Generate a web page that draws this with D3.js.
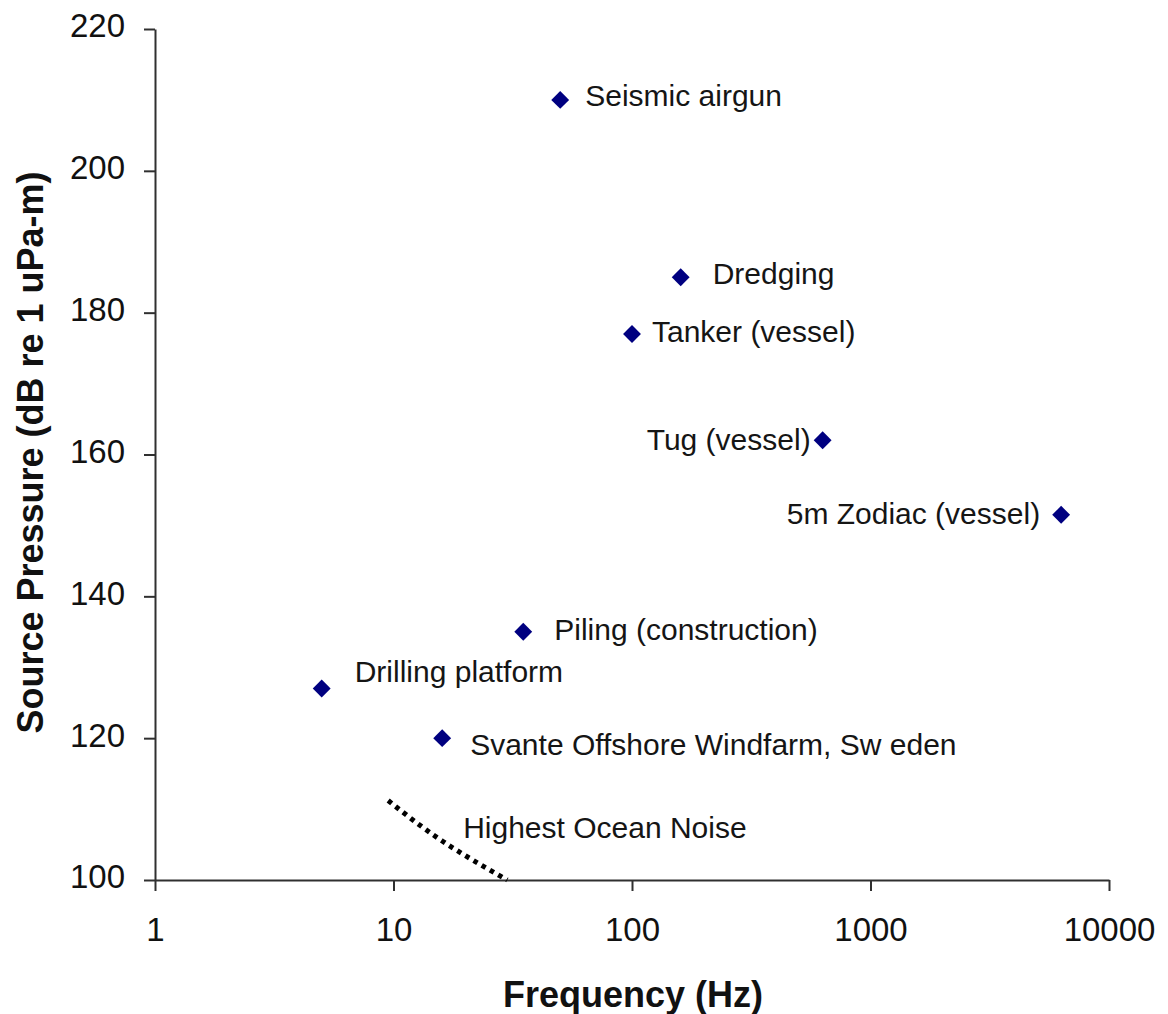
<!DOCTYPE html>
<html>
<head>
<meta charset="utf-8">
<script src="https://cdn.jsdelivr.net/npm/d3@7"></script>
<style>
  body { margin: 0; background: #fff; }
  svg { display: block; font-family: "Liberation Sans", Arial, sans-serif; }
  .axis path, .axis line { stroke: #303030; stroke-width: 2; }
  .axis text { font-size: 33px; fill: #111; }
  .axisTitle { font-size: 36px; font-weight: bold; fill: #111; }
  .ptLabel { font-size: 30px; fill: #151515; }
</style>
</head>
<body>
<div id="chart"></div>
<script>
// noise sources
var sources = ["Seismic airgun", "Dredging", "Tanker (vessel)", "Tug (vessel)",
  "5m Zodiac (vessel)", "Piling (construction)", "Drilling platform",
  "Svante Offshore Windfarm, Sw eden"];
var frequency = [50, 160, 100, 630, 6300, 35, 5, 16];
var pressure = [210, 185, 177, 162, 151.5, 135, 127, 120];

// highest ocean noise curve
var noiseFreq = [9.5, 16, 30];
var noiseDb = [111.2, 105.5, 100];
var noiseLabel = "Highest Ocean Noise";

var xTicks = [1, 10, 100, 1000, 10000];
var yTicks = [100, 120, 140, 160, 180, 200, 220];

var svgWidth = 1168;
var svgHeight = 1014;
var margin = { top: 29, right: 59, bottom: 134, left: 155 };
var width = svgWidth - margin.left - margin.right;
var height = svgHeight - margin.top - margin.bottom;

var svg = d3.select("#chart")
  .append("svg")
  .attr("width", svgWidth)
  .attr("height", svgHeight);

var chartGroup = svg.append("g")
  .attr("transform", `translate(${margin.left}, ${margin.top})`);

var xScale = d3.scaleLog()
  .domain([1, 10000])
  .range([0, width]);

var yScale = d3.scaleLinear()
  .domain([100, 220])
  .range([height, 0]);

chartGroup.append("g")
  .attr("class", "axis")
  .attr("transform", `translate(0, ${height})`)
  .call(d3.axisBottom(xScale)
    .tickValues(xTicks)
    .tickFormat(d3.format("d"))
    .tickSize(11)
    .tickSizeOuter(0)
    .tickPadding(27));

chartGroup.append("g")
  .attr("class", "axis")
  .call(d3.axisLeft(yScale)
    .tickValues(yTicks)
    .tickSize(11)
    .tickSizeOuter(0)
    .tickPadding(19))
  .selectAll("text")
  .attr("dy", "0.24em");

chartGroup.selectAll(".axis text").attr("font-size", null).attr("font-family", null);
chartGroup.selectAll(".axis").attr("font-size", null).attr("font-family", null);

// dotted noise curve
var noise = noiseFreq.map((f, i) => [f, noiseDb[i]]);
var line = d3.line()
  .x(d => xScale(d[0]))
  .y(d => yScale(d[1]))
  .curve(d3.curveNatural);

chartGroup.append("path")
  .datum(noise)
  .attr("d", line)
  .attr("fill", "none")
  .attr("stroke", "#000")
  .attr("stroke-width", 5)
  .attr("stroke-dasharray", "4.5,5");

chartGroup.append("text")
  .attr("class", "ptLabel")
  .attr("x", xScale(noiseFreq[0]) + 75)
  .attr("y", yScale(noiseDb[0]) + 37)
  .text(noiseLabel);

// points
var points = sources.map((s, i) => ({ name: s, f: frequency[i], p: pressure[i] }));

chartGroup.selectAll(".pt")
  .data(points)
  .enter()
  .append("path")
  .attr("class", "pt")
  .attr("d", d3.symbol().type(d3.symbolSquare).size(160))
  .attr("transform", d => `translate(${xScale(d.f)}, ${yScale(d.p)}) rotate(45)`)
  .attr("fill", "#000080");

// label placement: anchor, dx, dy in pixels from the marker
var place = [
  ["start", 25, 6],
  ["start", 32, 7],
  ["start", 20, 8],
  ["end", -12, 10],
  ["end", -21, 9],
  ["start", 31, 8],
  ["start", 33, -7],
  ["start", 28, 17]
];

chartGroup.selectAll(".ptLabel.src")
  .data(points)
  .enter()
  .append("text")
  .attr("class", "ptLabel src")
  .attr("x", (d, i) => xScale(d.f) + place[i][1])
  .attr("y", (d, i) => yScale(d.p) + place[i][2])
  .attr("text-anchor", (d, i) => place[i][0])
  .text(d => d.name);

// axis titles
svg.append("text")
  .attr("class", "axisTitle")
  .attr("transform", `translate(43, ${margin.top + height / 2 - 2}) rotate(-90)`)
  .attr("text-anchor", "middle")
  .text("Source Pressure (dB re 1 uPa-m)");

svg.append("text")
  .attr("class", "axisTitle")
  .attr("x", margin.left + width / 2 + 1)
  .attr("y", 1007)
  .attr("text-anchor", "middle")
  .text("Frequency (Hz)");
</script>
</body>
</html>
